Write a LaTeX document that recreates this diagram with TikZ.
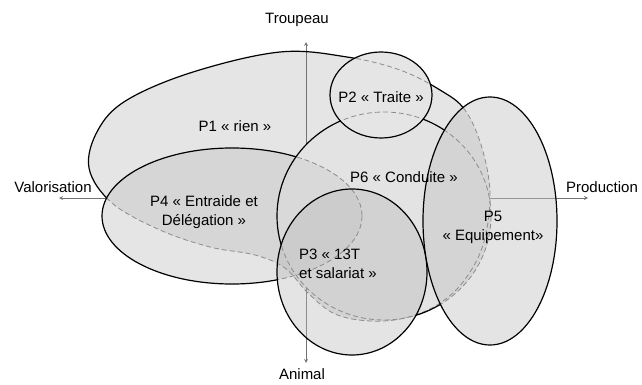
\documentclass[tikz,border=0pt]{standalone}
\usepackage{fontspec}
\setmainfont{Liberation Sans}
\usetikzlibrary{calc,positioning}
\usetikzlibrary{shapes,arrows}

\definecolor{pfill}{gray}{0.90}
\definecolor{pfourdark}{gray}{0.84}
\definecolor{psixfill}{gray}{0.89}
\definecolor{psixdark}{gray}{0.85}
\definecolor{pthreefill}{gray}{0.72}
\definecolor{pfivefill}{gray}{0.765}

\begin{document}
\begin{tikzpicture}[x=1pt,y=-1pt,inner sep=0.4mm,
  font=\fontsize{15}{19}\selectfont,
  pone/.style={insert path={plot[smooth cycle,tension=0.6] coordinates {
    (89,168) (98,130) (127,100) (193,72) (280,52) (347,57) (400,70)
    (440,90) (465,110) (482,148) (490,195) (483,245) (463,282) (437,305)
    (405,318) (370,321) (335,314) (308,293) (285,268) (255,255) (210,247)
    (160,230) (112,203)}}},
  ptwo/.style={insert path={(381,95) ellipse [x radius=51,y radius=43]}},
  pthree/.style={insert path={(352,272) ellipse [x radius=75,y radius=83]}},
  pfour/.style={insert path={(232,216) ellipse [x radius=130,y radius=68]}},
  pfive/.style={insert path={(490,221) ellipse [x radius=67,y radius=124]}},
  psix/.style={insert path={(384,216) ellipse [x radius=107,y radius=104]}},
  outside/.style={insert path={(-20,-20) rectangle (670,410)}},
  hidden/.style={draw=black!45,dash pattern=on 5pt off 3pt,line width=0.8pt},
  seen/.style={draw=black,line width=1.2pt},
  axis/.style={draw=black!55,line width=0.8pt}]

\useasboundingbox (0,0) rectangle (642,385);

\coordinate (up) at (306,42);
\coordinate (down) at (306,363);
\coordinate (left) at (59,198);
\coordinate (right) at (588,198);

% fills
\fill[pfill,pone];
\draw[<->,>=stealth,axis] (left) -- (right);
\draw[<->,>=stealth,axis] (down) -- (up);
\fill[pfill,pfour];
\begin{scope}
  \clip[pone];
  \fill[pfourdark,pfour];
\end{scope}
\fill[psixfill,psix];
\begin{scope}
  \clip[pfour];
  \fill[psixdark,psix];
\end{scope}
\fill[pfill,ptwo];
\fill[pthreefill,fill opacity=0.38,pthree];
\fill[pfivefill,fill opacity=0.45,pfive];

% hidden outlines
\begin{scope}
  \clip[pfour,psix,ptwo,pthree,pfive];
  \draw[hidden,pone];
\end{scope}
\begin{scope}
  \clip[psix,ptwo,pthree,pfive];
  \draw[hidden,pfour];
\end{scope}
\begin{scope}
  \clip[ptwo,pthree,pfive];
  \draw[hidden,psix];
\end{scope}
\begin{scope}
  \clip[pfive];
  \draw[hidden,pthree];
\end{scope}

% visible outlines
\begin{scope}
  \pgfseteorule
  \clip[outside,pfour]; \clip[outside,psix]; \clip[outside,ptwo];
  \clip[outside,pthree]; \clip[outside,pfive];
  \draw[seen,pone];
\end{scope}
\begin{scope}
  \pgfseteorule
  \clip[outside,psix]; \clip[outside,ptwo];
  \clip[outside,pthree]; \clip[outside,pfive];
  \draw[seen,pfour];
\end{scope}
\begin{scope}
  \pgfseteorule
  \clip[outside,ptwo]; \clip[outside,pthree]; \clip[outside,pfive];
  \draw[seen,psix];
\end{scope}
\draw[seen,ptwo];
\begin{scope}
  \pgfseteorule
  \clip[outside,pfive];
  \draw[seen,pthree];
\end{scope}
\draw[seen,pfive];

% labels
\node (troupeau) at (297,20) {Troupeau};
\node (animal) at (302,374) {Animal};
\node (valor) at (53,187) {Valorisation};
\node (prod) at (602,187) {Production};

\node (pone-t) at (235,126) {P1 « rien »};
\node (ptwo-t) at (381,97) {P2 « Traite »};
\node (pthree-t) [align=left] at (338,264) {P3 « 13T\\et salariat »};
\node (pfour-t) [align=center] at (204,212) {P4 « Entraide et\\Délégation »};
\node (pfive-t) [align=center] at (493,227) {P5\\« Equipement»};
\node (psix-t) at (404,177) {P6 « Conduite »};

\end{tikzpicture}
\end{document}
